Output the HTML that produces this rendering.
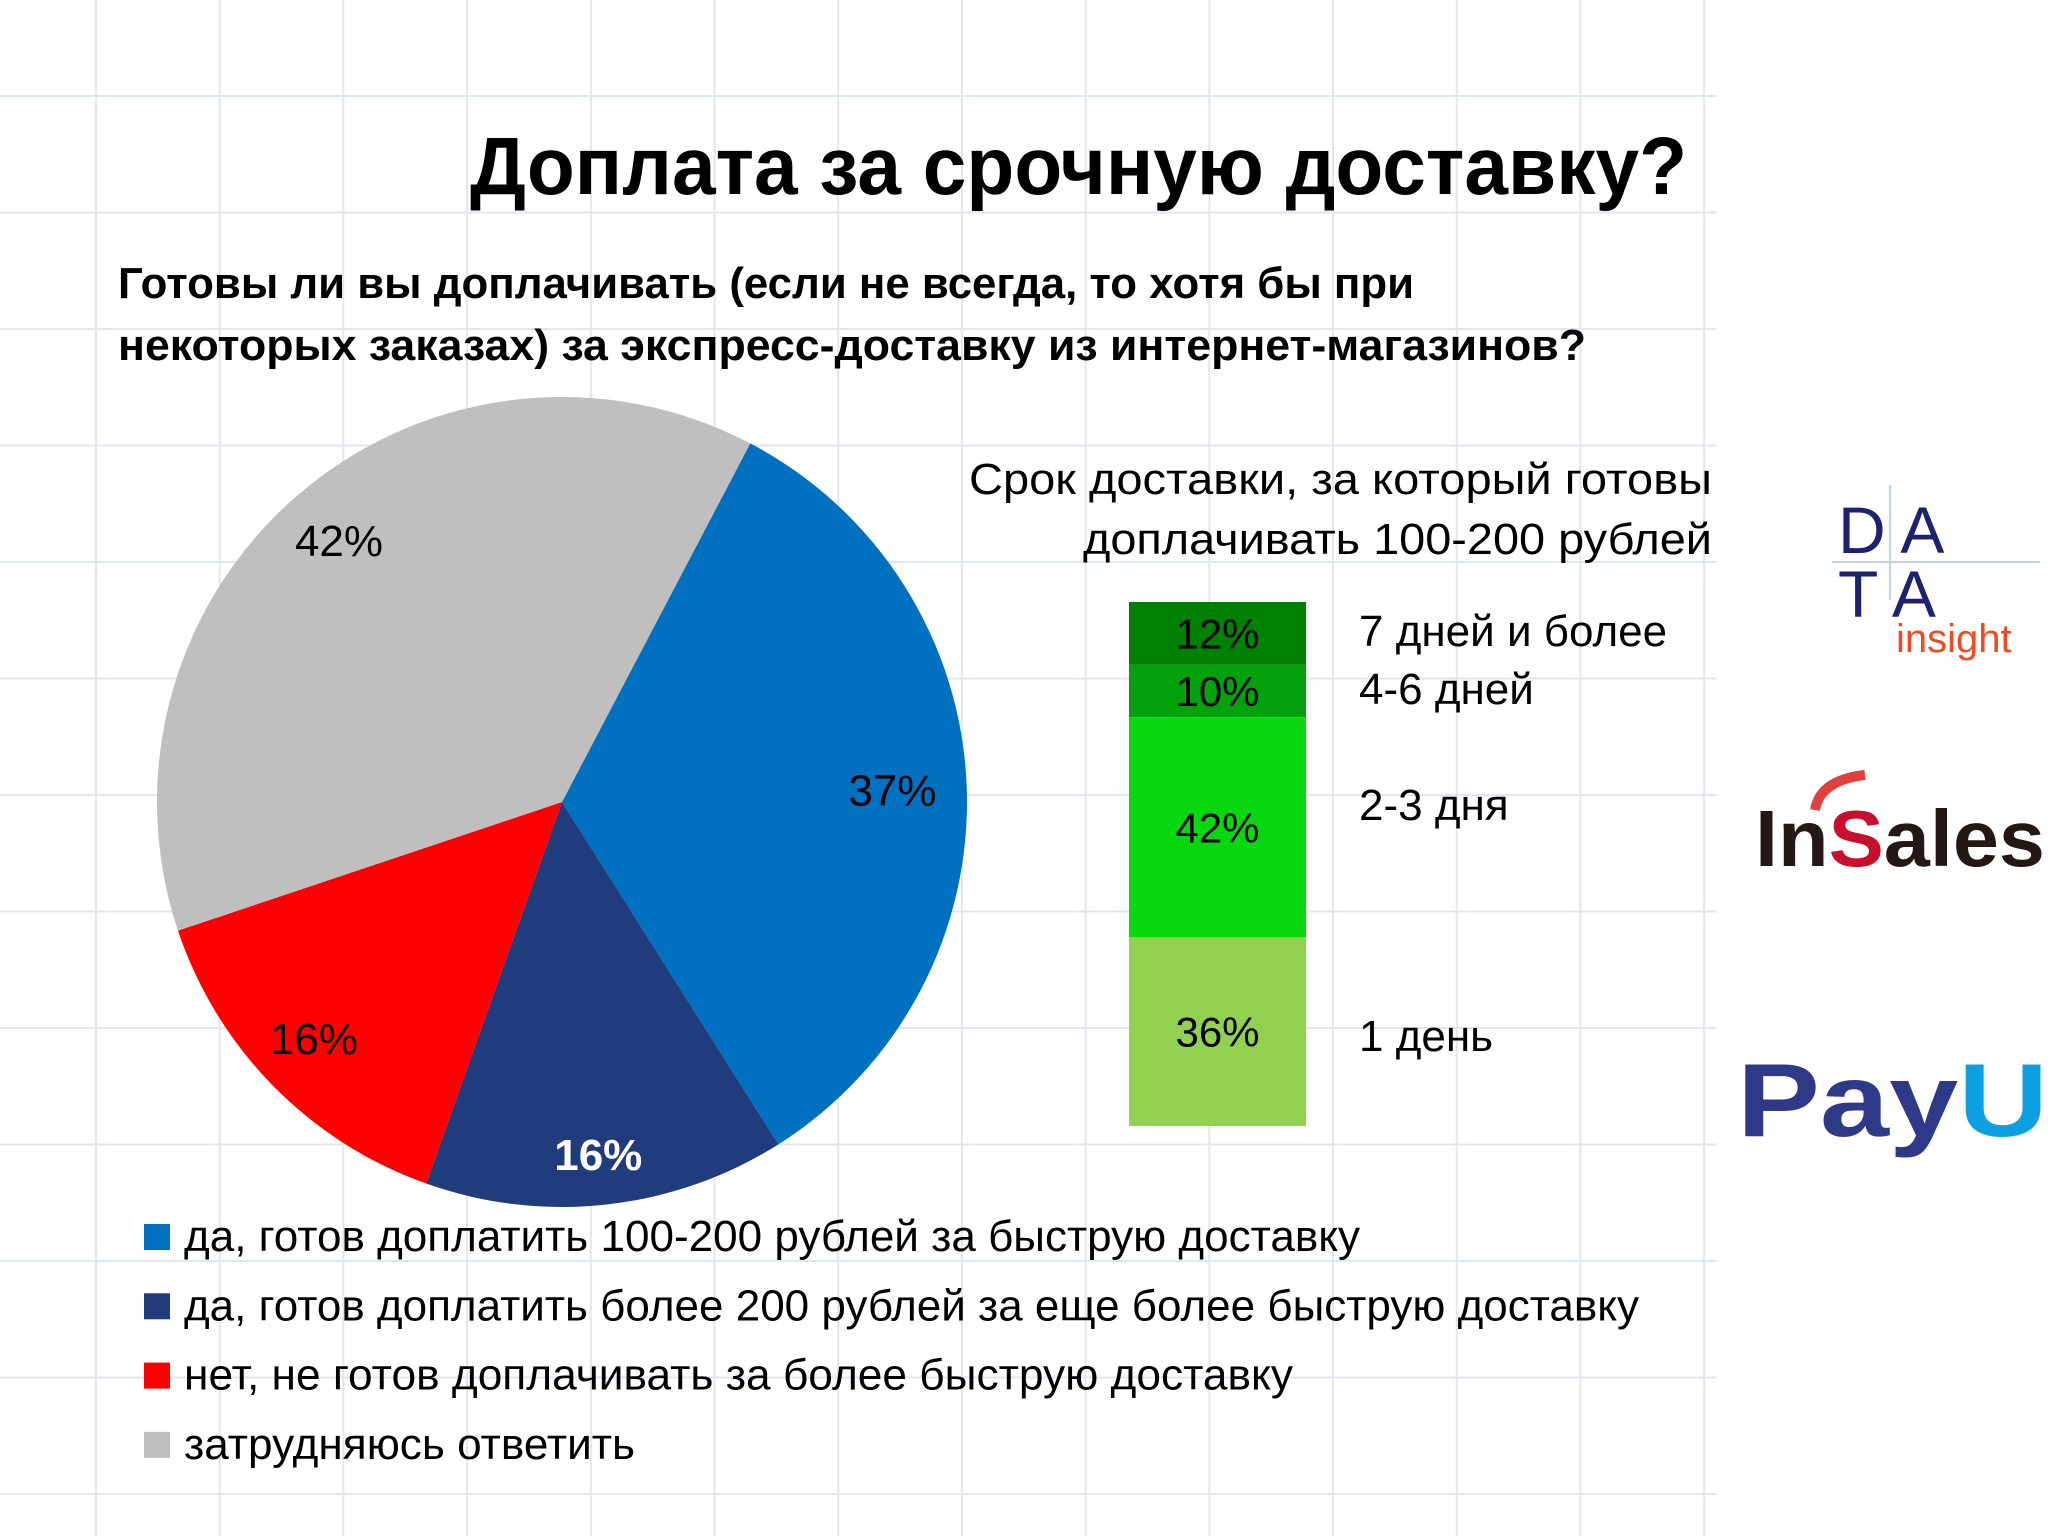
<!DOCTYPE html>
<html><head><meta charset="utf-8"><style>
html,body{margin:0;padding:0;background:#fff}
svg{display:block}
text{font-family:"Liberation Sans","DejaVu Sans",sans-serif}
</style></head><body>
<svg id="s" width="2048" height="1536" viewBox="0 0 2048 1536" xmlns="http://www.w3.org/2000/svg">
<g id="grid"></g>
<text x="470" y="194" font-size="82" font-weight="bold" textLength="1217" lengthAdjust="spacingAndGlyphs">Доплата за срочную доставку?</text>
<text x="118" y="298" font-size="44" font-weight="bold" textLength="1296" lengthAdjust="spacingAndGlyphs">Готовы ли вы доплачивать (если не всегда, то хотя бы при</text>
<text x="118" y="360" font-size="44" font-weight="bold" textLength="1468" lengthAdjust="spacingAndGlyphs">некоторых заказах) за экспресс-доставку из интернет-магазинов?</text>
<g id="pie"></g>
<text x="969" y="494" font-size="44" textLength="743" lengthAdjust="spacingAndGlyphs">Срок доставки, за который готовы</text>
<text x="1083" y="554" font-size="44" textLength="629" lengthAdjust="spacingAndGlyphs">доплачивать 100-200 рублей</text>
<g id="bar"></g>
<g id="legend"></g>
<g>
<line x1="1832" y1="562" x2="2040" y2="562" stroke="#bcd6e8" stroke-width="2"/>
<line x1="1890" y1="485" x2="1890" y2="600" stroke="#bcd6e8" stroke-width="2"/>
<text x="1838" y="553" font-size="66" fill="#1c2270">D A</text>
<text x="1838" y="617" font-size="66" fill="#1c2270">T A</text>
<text x="1896" y="652" font-size="40" fill="#f04a25">insight</text>
</g>
<g>
<path d="M1815 810 Q1820 780 1865 775" stroke="#e04040" stroke-width="10" fill="none"/>
<text x="1755" y="866" font-size="80" font-weight="bold" fill="#231815" textLength="290" lengthAdjust="spacingAndGlyphs">In<tspan fill="#c8102e">S</tspan>ales</text>
</g>
<g>
<text x="1737" y="1136" font-size="104" font-weight="bold" fill="#2e3a87" textLength="311" lengthAdjust="spacingAndGlyphs">Pay<tspan fill="#0da0e0">U</tspan></text>
</g>
</svg>
<script>
const NS='http://www.w3.org/2000/svg';
const pieLabels=['да, готов доплатить 100-200 рублей за быструю доставку','да, готов доплатить более 200 рублей за еще более быструю доставку','нет, не готов доплачивать за более быструю доставку','затрудняюсь ответить'];
const pieValues=[37,16,16,42];
const pieColors=['#0070c0','#203c7c','#ff0000','#bfbfbf'];
const barCategories=['7 дней и более','4-6 дней','2-3 дня','1 день'];
const barValues=[12,10,42,36];
const barColors=['#008000','#03a10b','#08d90f','#92d050'];

function mk(tag,attrs,parent){const e=document.createElementNS(NS,tag);for(const k in attrs)e.setAttribute(k,attrs[k]);parent.appendChild(e);return e;}

const grid=document.getElementById('grid');
for(let x=96;x<=1716;x+=123.7){const l=mk('line',{x1:x,y1:0,x2:x,y2:1536,stroke:'#e2e6f0','stroke-width':2},grid);

}
for(let y=96;y<=1536;y+=116.5){const l=mk('line',{x1:0,y1:y,x2:1716,y2:y,stroke:'#e2e6f0','stroke-width':2},grid);

}

const pie=document.getElementById('pie');
const cx=562,cy=802,r=405,start=27.7;
const total=pieValues.reduce((a,b)=>a+b,0);
const pt=(deg,rad)=>[cx+rad*Math.sin(deg*Math.PI/180),cy-rad*Math.cos(deg*Math.PI/180)];
const lblR=0.72;
const lblOff=[[39,0],[4,63],[-40,33],[-34,-39]];
let a=start;
pieValues.forEach((v,i)=>{
  const span=v/total*360,a2=a+span;
  const [x1,y1]=pt(a,r),[x2,y2]=pt(a2,r);
  const p=mk('path',{d:`M${cx},${cy} L${x1},${y1} A${r},${r} 0 ${span>180?1:0} 1 ${x2},${y2} Z`,fill:pieColors[i]},pie);
  
  
  const [lx,ly]=pt(a+span/2,r*lblR);
  const t=mk('text',{x:lx+lblOff[i][0],y:ly+15+lblOff[i][1],'font-size':44,'text-anchor':'middle',fill:i===1?'#fff':'#000','font-weight':i===1?'bold':'normal'},pie);
  t.textContent=v+'%';
  
  
  a=a2;
});

const bar=document.getElementById('bar');
const bx=1129,bw=177,btop=602,bh=524;
const btot=barValues.reduce((a,b)=>a+b,0);
const catY=[646,704,820,1051];
let y=btop;
barValues.forEach((v,i)=>{
  const h=v/btot*bh;
  const rc=mk('rect',{x:bx,y:y,width:bw,height:h,fill:barColors[i]},bar);
  
  
  const t=mk('text',{x:bx+bw/2,y:y+h/2+15,'font-size':42,'text-anchor':'middle'},bar);
  t.textContent=v+'%';
  
  
  const c=mk('text',{x:1359,y:catY[i],'font-size':44},bar);
  c.textContent=barCategories[i];
  
  
  y+=h;
});

const lg=document.getElementById('legend');
const lgW=[1176,1455,1109,451];
pieLabels.forEach((s,i)=>{
  const yy=1251+i*69.3;
  const sq=mk('rect',{x:144,y:yy-27,width:26,height:26,fill:pieColors[i]},lg);
  
  
  const t=mk('text',{x:184,y:yy,'font-size':44,textLength:lgW[i],lengthAdjust:'spacingAndGlyphs'},lg);
  t.textContent=s;
  
  
});
</script>
</body></html>
